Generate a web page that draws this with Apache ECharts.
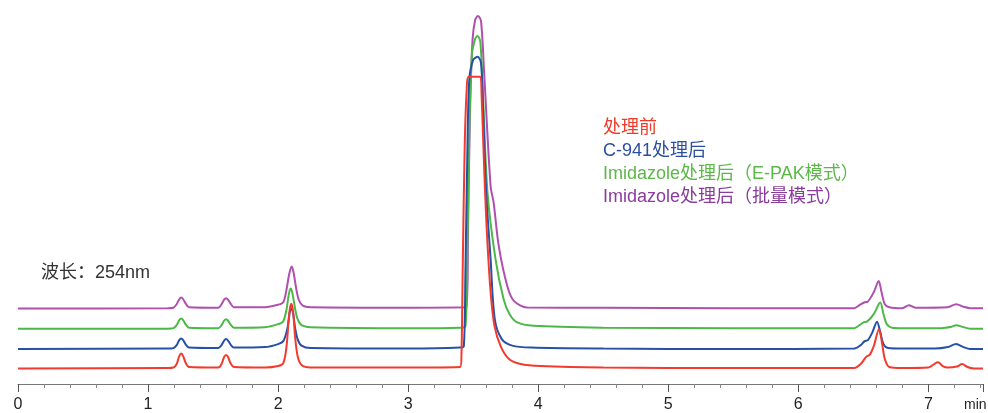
<!DOCTYPE html>
<html>
<head>
<meta charset="utf-8">
<script src="https://cdn.jsdelivr.net/npm/echarts@6/dist/echarts.min.js"></script>
<style>
  html, body { margin: 0; padding: 0; background: #fff; }
  #chart { width: 988px; height: 413px; }
</style>
</head>
<body>
<div id="chart"></div>
<script>
// retention time (min) / detector signal (traces are offset)
const xTicks = [0, 1, 2, 3, 4, 5, 6, 7];

const redTrace = [
  [0, 15.5], [1.15, 16], [1.195, 16.5], [1.22, 20], [1.24, 28], [1.255, 30.5], [1.27, 28], [1.29, 21], [1.315, 17],
  [1.54, 16.5], [1.565, 20], [1.585, 27], [1.6, 29], [1.615, 27], [1.635, 20.5], [1.66, 17],
  [1.9, 16.5], [2.0, 18], [2.04, 21], [2.065, 38], [2.085, 70], [2.1, 80.5], [2.115, 73], [2.13, 48],
  [2.15, 28], [2.18, 19], [2.25, 16.5],
  [3.0, 16.5], [3.4, 17], [3.41, 30], [3.42, 120], [3.435, 240], [3.45, 295], [3.465, 308],
  [3.555, 308], [3.564, 292], [3.582, 225], [3.603, 158], [3.634, 92], [3.664, 58], [3.711, 38],
  [3.775, 25], [3.865, 20], [4.02, 18], [4.5, 16.5], [5.5, 16], [6.43, 16],
  [6.48, 20], [6.52, 27], [6.55, 29.5], [6.58, 38], [6.62, 55], [6.645, 40], [6.665, 25], [6.7, 17],
  [6.8, 16], [7.0, 16.5], [7.05, 20.5], [7.075, 21.7], [7.11, 18], [7.15, 16.5],
  [7.22, 17.5], [7.26, 20], [7.3, 17], [7.35, 15.5], [7.42, 15.5]
];

const blueTrace = [
  [0, 35], [1.15, 35.5], [1.195, 36], [1.22, 39], [1.24, 44], [1.255, 45.5], [1.27, 44], [1.29, 39.5], [1.315, 36.5],
  [1.54, 36], [1.565, 39], [1.585, 43.5], [1.6, 45], [1.615, 43.5], [1.635, 39.5], [1.66, 36.5],
  [1.9, 37], [2.0, 40], [2.04, 43], [2.07, 55], [2.09, 72], [2.1, 76], [2.115, 71], [2.13, 57],
  [2.15, 45], [2.18, 38.5], [2.25, 36],
  [3.0, 35.5], [3.4, 36.5], [3.428, 38], [3.44, 110], [3.455, 230], [3.47, 305], [3.5, 325],
  [3.535, 328], [3.56, 322], [3.575, 280], [3.6, 192], [3.634, 125], [3.666, 65], [3.72, 45],
  [3.8, 38.5], [3.95, 36.5], [4.5, 35.5], [5.5, 35], [6.43, 35.5],
  [6.48, 39], [6.51, 43], [6.535, 44], [6.57, 52], [6.605, 62.5], [6.63, 52], [6.655, 40], [6.69, 36],
  [6.8, 35.5], [7.05, 35.5], [7.15, 37], [7.213, 40], [7.27, 37], [7.32, 35], [7.42, 35]
];

const greenTrace = [
  [0, 55.3], [1.15, 55.5], [1.195, 56], [1.22, 59], [1.24, 64], [1.255, 65.7], [1.27, 64], [1.29, 59.5], [1.315, 56.5],
  [1.54, 56], [1.565, 59], [1.585, 63.5], [1.6, 65], [1.615, 63.5], [1.635, 59.5], [1.66, 56.5],
  [1.9, 57], [2.0, 60], [2.04, 63], [2.065, 75], [2.08, 88], [2.095, 95.7], [2.11, 91], [2.13, 76],
  [2.15, 65], [2.18, 59], [2.25, 57],
  [3.0, 56], [3.4, 56.5], [3.441, 58], [3.455, 130], [3.47, 250], [3.49, 330], [3.515, 346],
  [3.533, 349], [3.555, 343], [3.575, 290], [3.61, 192], [3.672, 125], [3.734, 85], [3.78, 70],
  [3.839, 61.7], [3.965, 58.3], [4.5, 56.5], [5.5, 56], [6.43, 56],
  [6.47, 59], [6.505, 62], [6.528, 62.5], [6.58, 70], [6.63, 81.7], [6.655, 70], [6.68, 60], [6.72, 56.5],
  [6.8, 56], [7.1, 56], [7.18, 57.5], [7.213, 59], [7.27, 57], [7.32, 55.5], [7.42, 55.5]
];

const purpleTrace = [
  [0, 75.7], [1.15, 76], [1.195, 76.5], [1.22, 80], [1.24, 85], [1.255, 86.7], [1.27, 85], [1.29, 80.5], [1.315, 77],
  [1.54, 76.5], [1.565, 80], [1.585, 84.5], [1.6, 86], [1.615, 84.5], [1.635, 80.5], [1.66, 77],
  [1.9, 77], [2.0, 79.5], [2.04, 82], [2.065, 95], [2.085, 110], [2.105, 117.7], [2.12, 111], [2.14, 95],
  [2.16, 84], [2.19, 78.5], [2.25, 77],
  [3.0, 76.5], [3.449, 77], [3.46, 150], [3.475, 270], [3.495, 345], [3.515, 365],
  [3.536, 369], [3.56, 364], [3.585, 310], [3.634, 198], [3.657, 182], [3.697, 138], [3.762, 98.3],
  [3.813, 83.3], [3.916, 76.7], [4.5, 76.5], [5.5, 76], [6.43, 76],
  [6.47, 79], [6.51, 82], [6.533, 82.5], [6.58, 92], [6.618, 103.3], [6.64, 92], [6.665, 80], [6.7, 77],
  [6.8, 76], [6.85, 79], [6.9, 76.5], [7.15, 77], [7.213, 80], [7.27, 77.5], [7.32, 76], [7.42, 76]
];

const seriesNames = ['处理前', 'C-941处理后', 'Imidazole处理后（E-PAK模式）', 'Imidazole处理后（批量模式）'];
const lineColors = ['#f23b2e', '#2651a6', '#4cb848', '#b04fb0'];
const textColors = ['#f03a2a', '#2c50a0', '#5cb848', '#8a3c9c'];
const traces = [redTrace, blueTrace, greenTrace, purpleTrace];

const textFont = '18px "Liberation Sans", "Noto Sans CJK SC", sans-serif';

const chart = echarts.init(document.getElementById('chart'));

const series = [];
// draw purple first, red last
for (let i = traces.length - 1; i >= 0; i--) {
  series.push({
    name: seriesNames[i],
    type: 'line',
    data: traces[i],
    symbol: 'none',
    smooth: 0.3,
    lineStyle: { color: lineColors[i], width: 2 },
    animation: false
  });
}

const legendTexts = seriesNames.map((name, i) => ({
  type: 'text',
  left: 603,
  top: 119 + i * 23,
  style: { text: name, fill: textColors[i], font: textFont }
}));

const option = {
  backgroundColor: '#fff',
  grid: { left: 18, right: 5, top: 0, bottom: 28 },
  xAxis: {
    type: 'value',
    min: 0,
    max: 7.42,
    interval: 1,
    axisLine: { lineStyle: { color: '#777', width: 1 } },
    axisTick: { show: true, length: 8, lineStyle: { color: '#555' } },
    minorTick: { show: true, splitNumber: 5, length: 4, lineStyle: { color: '#888' } },
    splitLine: { show: false },
    axisLabel: {
      color: '#222',
      fontSize: 16,
      margin: 13,
      fontFamily: 'Liberation Sans, Arial, sans-serif',
      formatter: v => (xTicks.indexOf(v) >= 0 ? String(v) : '')
    }
  },
  yAxis: {
    type: 'value',
    min: 0,
    max: 385,
    show: false
  },
  graphic: legendTexts.concat([
    {
      type: 'text',
      left: 41,
      top: 264,
      style: { text: '波长：254nm', fill: '#333', font: textFont }
    },
    {
      type: 'text',
      left: 964,
      top: 398,
      style: { text: 'min', fill: '#222', font: '14px "Liberation Sans", Arial, sans-serif' }
    }
  ]),
  series: series
};

chart.setOption(option);
</script>
</body>
</html>
